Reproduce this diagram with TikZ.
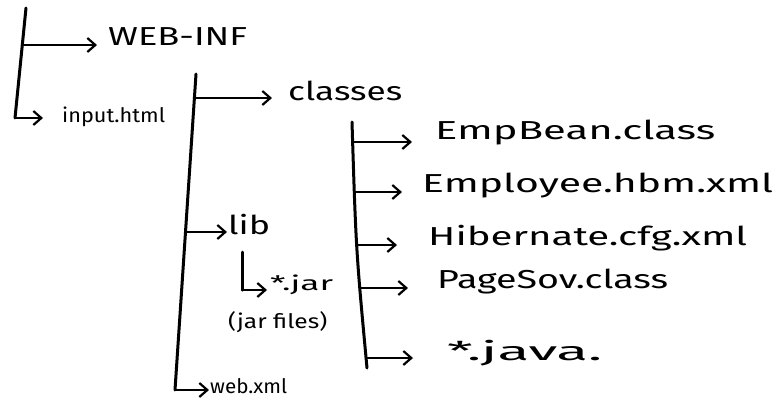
\documentclass[tikz,border=0pt]{standalone}
\usepackage{fontspec}
\setmainfont{Fira Sans}
\usetikzlibrary{arrows.meta}
\newcommand{\hw}[2]{\resizebox{#1}{\height}{#2}}
\tikzset{
  tree/.style={line width=3pt, line cap=round, line join=round},
  br/.style={line width=2.6pt, line cap=round, -{Straight Barb[length=8pt,width=14pt,line width=2.2pt]}},
  lbl/.style={anchor=mid west, inner sep=0pt, font=\fontsize{26}{30}\selectfont},
  small/.style={anchor=mid west, inner sep=0pt, font=\fontsize{20}{24}\selectfont},
}
\begin{document}
\begin{tikzpicture}[x=1pt,y=-1pt]
\useasboundingbox (0,0) rectangle (778,405);
% text nodes
\node[lbl] (web) at (108,43) {\hw{139pt}{WEB-INF}};
\node[small] (inp) at (62,120) {\hw{103pt}{input.html}};
\node[lbl] (cls) at (288,98) {\hw{114pt}{classes}};
\node[lbl] (emp) at (435,137) {\hw{280pt}{EmpBean.class}};
\node[lbl] (hbm) at (422,190) {\hw{351pt}{Employee.hbm.xml}};
\node[lbl] (cfg) at (428,243) {\hw{319pt}{Hibernate.cfg.xml}};
\node[lbl] (pag) at (437,286) {\hw{231pt}{PageSov.class}};
\node[lbl] (jav) at (447,358) {\hw{155pt}{*.java.}};
\node[lbl] (lib) at (228,232) {\hw{42pt}{lib}};
\node[small] (jar) at (270,288) {\hw{63pt}{*.jar}};
\node[small] (jfl) at (228,326) {\hw{99pt}{(jar files)}};
\node[small] (wxm) at (210,391) {\hw{77pt}{web.xml}};
% left tree
\coordinate (l0) at (26,8);
\coordinate (l1) at (15,118);
\coordinate (lb) at (22,45);
\draw[tree] (l0) -- (l1);
\draw[br] (l1) -- (43,118);
\draw[br] (lb) -- (97,45);
% middle tree
\coordinate (m0) at (196,74);
\coordinate (m1) at (175,390);
\coordinate (mc) at (194,98);
\coordinate (ml) at (187,232);
\draw[tree] (m0) -- (m1);
\draw[br] (mc) -- (272,98);
\draw[br] (ml) -- (227,232);
\draw[br] (m1) -- (209,390);
% lib sub-tree
\coordinate (s0) at (242,252);
\coordinate (s1) at (242,290);
\draw[tree] (s0) -- (s1);
\draw[br] (s1) -- (267,290);
% right tree
\coordinate (r0) at (352,122);
\coordinate (r1) at (367,368);
\draw[tree] (r0) .. controls (356,250) .. (r1);
\coordinate (ra) at (353,142);
\coordinate (rb) at (355,192);
\coordinate (rc) at (358,245);
\coordinate (rd) at (361,288);
\coordinate (re) at (366,358);
\draw[br] (ra) -- (412,142);
\draw[br] (rb) -- (402,192);
\draw[br] (rc) -- (397,245);
\draw[br] (rd) -- (408,288);
\draw[br] (re) -- (413,358);
\end{tikzpicture}
\end{document}
